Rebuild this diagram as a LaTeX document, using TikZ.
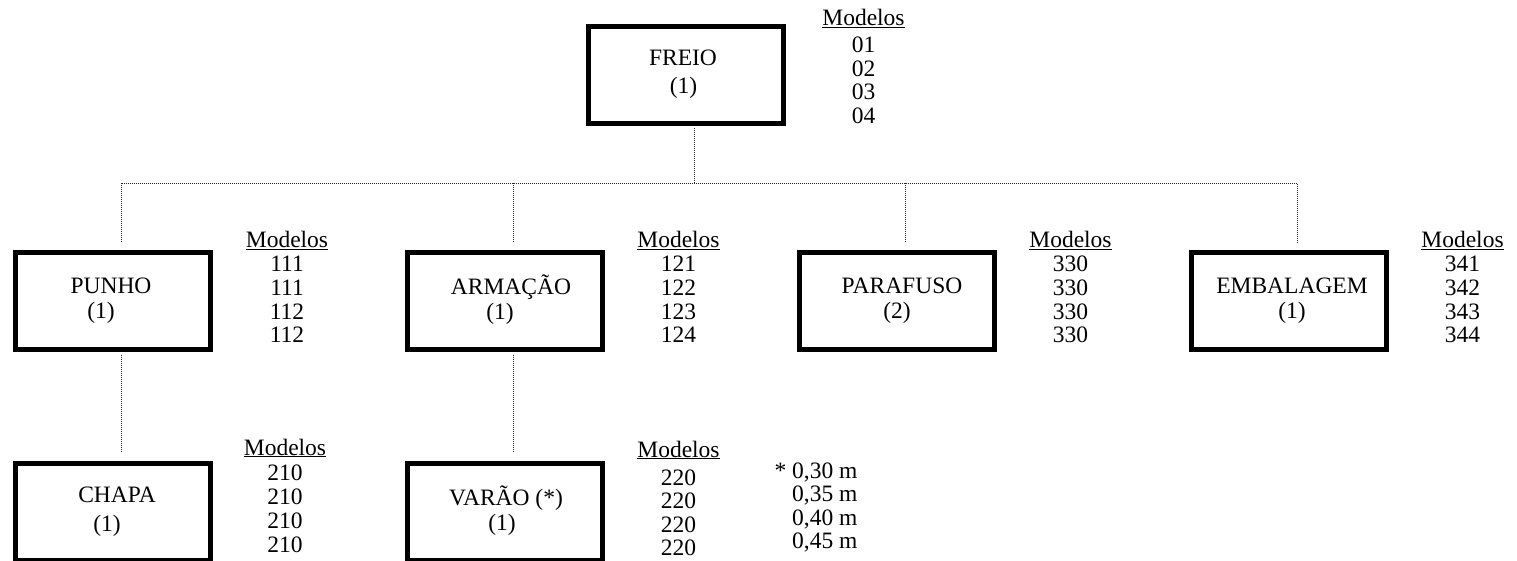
\documentclass[tikz,border=0pt]{standalone}
\usepackage{fontspec}
\setmainfont{Liberation Serif}
\usetikzlibrary{calc}
\begin{document}
\begin{tikzpicture}[x=1pt,y=-1pt,
  part/.style={draw,line width=5pt,minimum width=195pt,minimum height=97pt,inner sep=0pt,font=\fontsize{23.5}{23.5}\selectfont},
  models/.style={anchor=base,inner sep=0pt,font=\fontsize{23.5}{23.5}\selectfont},
  conn/.style={line width=0.8pt,dash pattern=on 1pt off 1pt,black!85}
]
\useasboundingbox (0,0) rectangle (1517,561);

% boxes
\node[part] (freio) at (685.5,75) {\begin{tabular}{c}\hspace*{-5pt}FREIO\\[4.5pt]\hspace*{-4pt}(1)\end{tabular}};
\node[part] (punho) at (112.5,301) {\begin{tabular}{c}\hspace*{-3pt}PUNHO\\[1.5pt]\hspace*{-23pt}(1)\end{tabular}};
\node[part] (armacao) at (504.5,301) {\begin{tabular}{c}\hspace*{13pt}ARMAÇÃO\\[1.5pt]\hspace*{-9pt}(1)\end{tabular}};
\node[part] (parafuso) at (897,301) {\begin{tabular}{c}\hspace*{10pt}PARAFUSO\\[1.5pt](2)\end{tabular}};
\node[part] (embalagem) at (1288.5,301) {\begin{tabular}{c}\hspace*{7pt}EMBALAGEM\\[1.5pt]\hspace*{7pt}(1)\end{tabular}};
\node[part] (chapa) at (112.5,512) {\begin{tabular}{c}\hspace*{9pt}CHAPA\\[5.5pt]\hspace*{-11pt}(1)\end{tabular}};
\node[part] (varao) at (504.5,512) {\begin{tabular}{c}\hspace*{3pt}VARÃO (*)\\[1.5pt]\hspace*{-5pt}(1)\end{tabular}};

% model lists
\node[models] (mfreio) at (863.5,26) {\begin{tabular}[t]{c}\underline{Modelos}\\[3.5pt]01\\02\\03\\04\end{tabular}};
\node[models] (mpunho) at (287,248) {\begin{tabular}[t]{c}\underline{Modelos}\\[0.5pt]111\\111\\112\\112\end{tabular}};
\node[models] (marmacao) at (678.5,248) {\begin{tabular}[t]{c}\underline{Modelos}\\[0.5pt]121\\122\\123\\124\end{tabular}};
\node[models] (mparafuso) at (1070.5,248) {\begin{tabular}[t]{c}\underline{Modelos}\\[0.5pt]330\\330\\330\\330\end{tabular}};
\node[models] (membalagem) at (1462.5,248) {\begin{tabular}[t]{c}\underline{Modelos}\\[0.5pt]341\\342\\343\\344\end{tabular}};
\node[models] (mchapa) at (285,455) {\begin{tabular}[t]{c}\underline{Modelos}\\[1.5pt]210\\[0.7pt]210\\[0.7pt]210\\[0.7pt]210\end{tabular}};
\node[models] (mvarao) at (678.5,457) {\begin{tabular}[t]{c}\underline{Modelos}\\[4.5pt]220\\220\\220\\220\end{tabular}};
\node[anchor=base west,inner sep=0pt,font=\fontsize{23.5}{23.5}\selectfont] (comprimentos) at (792,478)
  {\begin{tabular}[t]{@{}l@{}}\llap{*\ }0,30 m\\0,35 m\\0,40 m\\0,45 m\end{tabular}};

% connectors
\coordinate (bus) at (0,183);
\coordinate (fB) at ([xshift=8.5pt,yshift=-2.5pt]freio.south);
\coordinate (pT) at ([xshift=8.5pt,yshift=7.5pt]punho.north);
\coordinate (aT) at ([xshift=8.5pt,yshift=7.5pt]armacao.north);
\coordinate (sT) at ([xshift=8.5pt,yshift=7.5pt]parafuso.north);
\coordinate (eT) at ([xshift=8.5pt,yshift=7.5pt]embalagem.north);
\coordinate (pB) at ([xshift=8.5pt,yshift=-2.5pt]punho.south);
\coordinate (aB) at ([xshift=8.5pt,yshift=-2.5pt]armacao.south);
\coordinate (cT) at ([xshift=8.5pt,yshift=8.5pt]chapa.north);
\coordinate (vT) at ([xshift=8.5pt,yshift=8.5pt]varao.north);

\draw[conn] (fB) -- (fB |- bus);
\draw[conn] (pT) -- (pT |- bus) -- (eT |- bus) -- (eT);
\draw[conn] (aT |- bus) -- (aT);
\draw[conn] (sT |- bus) -- (sT);
\draw[conn] (pB) -- (cT);
\draw[conn] (aB) -- (vT);
\end{tikzpicture}
\end{document}
